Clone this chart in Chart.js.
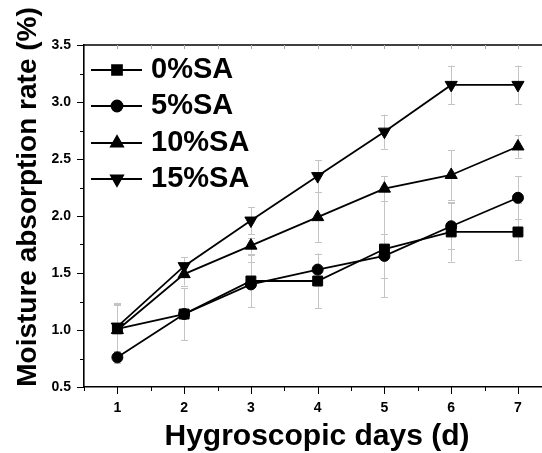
<!DOCTYPE html>
<html>
<head>
<meta charset="utf-8">
<script src="https://cdn.jsdelivr.net/npm/chart.js@4/dist/chart.umd.min.js"></script>
<style>
  html, body { margin: 0; padding: 0; background: #fff; }
  #wrap { width: 542px; height: 453px; }
</style>
</head>
<body>
<div id="wrap"><canvas id="c" width="542" height="453"></canvas></div>
<script>
// ---- data ----
const days = [1, 2, 3, 4, 5, 6, 7];
const seriesLabels = ['0%SA', '5%SA', '10%SA', '15%SA'];
const sa0  = [1.01, 1.14, 1.43, 1.43, 1.71, 1.86, 1.86];
const sa5  = [0.76, 1.14, 1.40, 1.53, 1.65, 1.91, 2.16];
const sa10 = [1.00, 1.49, 1.74, 1.99, 2.24, 2.36, 2.61];
const sa15 = [1.03, 1.56, 1.96, 2.35, 2.74, 3.15, 3.15];
const err0  = [0.22, 0.23, 0.23, 0.24, 0.42, 0.26, 0.25];
const err5  = [0.05, 0.03, 0.20, 0.14, 0.19, 0.20, 0.19];
const err10 = [0.22, 0.10, 0.07, 0.22, 0.11, 0.22, 0.10];
const err15 = [0.21, 0.08, 0.12, 0.14, 0.15, 0.17, 0.17];
const xTickValues = [1, 2, 3, 4, 5, 6, 7];
const yTickValues = [0.5, 1.0, 1.5, 2.0, 2.5, 3.0, 3.5];
const xTitle = 'Hygroscopic days (d)';
const yTitle = 'Moisture absorption rate (%)';

const FONT = "'Liberation Sans', Arial, Helvetica, sans-serif";
const values = [sa0, sa5, sa10, sa15];
const errors = [err0, err5, err10, err15];
const styles = [
  { pointStyle: 'rect', r: 7, rot: 0 },
  { pointStyle: 'circle', r: 5.5, rot: 0 },
  { pointStyle: 'triangle', r: 7, rot: 0 },
  { pointStyle: 'triangle', r: 7, rot: 180 }
];

const datasets = values.map((v, i) => ({
  label: seriesLabels[i],
  data: days.map((d, j) => ({ x: d, y: v[j] })),
  errs: errors[i],
  borderColor: '#000',
  backgroundColor: '#000',
  borderWidth: 1.8,
  pointStyle: styles[i].pointStyle,
  pointRadius: styles[i].r,
  pointHoverRadius: styles[i].r,
  pointRotation: styles[i].rot,
  pointBackgroundColor: '#000',
  pointBorderColor: '#000',
  pointBorderWidth: 1,
  tension: 0,
  fill: false,
  clip: false
}));

const decorPlugin = {
  id: 'decor',
  beforeDatasetsDraw(chart) {
    const ctx = chart.ctx, xs = chart.scales.x, ys = chart.scales.y;
    ctx.save();
    ctx.strokeStyle = '#c4c4c4';
    ctx.lineWidth = 1;
    chart.data.datasets.forEach(ds => {
      ds.data.forEach((p, j) => {
        const e = ds.errs[j];
        const px = Math.round(xs.getPixelForValue(p.x)) + 0.5;
        const t = ys.getPixelForValue(p.y + e);
        const b = ys.getPixelForValue(p.y - e);
        ctx.beginPath();
        ctx.moveTo(px, t); ctx.lineTo(px, b);
        ctx.moveTo(px - 3.5, Math.round(t) + 0.5); ctx.lineTo(px + 3.5, Math.round(t) + 0.5);
        ctx.moveTo(px - 3.5, Math.round(b) + 0.5); ctx.lineTo(px + 3.5, Math.round(b) + 0.5);
        ctx.stroke();
      });
    });
    ctx.restore();
  },
  afterDraw(chart) {
    const ctx = chart.ctx, xs = chart.scales.x, ys = chart.scales.y;
    const a = chart.chartArea;
    ctx.save();
    // top spine
    ctx.strokeStyle = '#000';
    ctx.lineWidth = 1.6;
    ctx.beginPath();
    ctx.moveTo(a.left, a.top); ctx.lineTo(chart.width, a.top);
    ctx.stroke();
    // tick marks
    ctx.lineWidth = 1;
    ctx.strokeStyle = '#000';
    ctx.beginPath();
    for (let v = 0.5; v <= xs.max + 1e-9; v += 0.5) {
      const px = Math.round(xs.getPixelForValue(v)) + 0.5;
      const major = Math.abs(v - Math.round(v)) < 1e-9;
      ctx.moveTo(px, a.bottom); ctx.lineTo(px, a.bottom + (major ? 7 : 4));
    }
    for (let v = 0.5; v <= 3.5 + 1e-9; v += 0.25) {
      const py = Math.round(ys.getPixelForValue(v)) + 0.5;
      const major = Math.abs(v * 2 - Math.round(v * 2)) < 1e-9;
      ctx.moveTo(a.left, py); ctx.lineTo(a.left - (major ? 7 : 4), py);
    }
    ctx.stroke();
    ctx.strokeStyle = '#aaa';
    ctx.beginPath();
    for (let v = 1; v <= xs.max + 1e-9; v += 0.5) {
      const px = Math.round(xs.getPixelForValue(v)) + 0.5;
      ctx.moveTo(px, a.top); ctx.lineTo(px, a.top + 4);
    }
    ctx.stroke();
    // legend
    const rowY = [70, 106, 143, 179];
    chart.data.datasets.forEach((ds, i) => {
      const y = rowY[i];
      ctx.strokeStyle = '#000';
      ctx.lineWidth = 1.8;
      ctx.beginPath();
      ctx.moveTo(91, y); ctx.lineTo(142, y);
      ctx.stroke();
      ctx.fillStyle = '#000';
      Chart.helpers.drawPoint(ctx, {
        pointStyle: ds.pointStyle, radius: ds.pointRadius, rotation: ds.pointRotation, borderWidth: 1
      }, 117, y);
      ctx.fillStyle = '#000';
      ctx.font = 'bold 29px ' + FONT;
      ctx.textBaseline = 'middle';
      ctx.textAlign = 'left';
      ctx.fillText(ds.label, 151, y);
    });
    // axis titles
    ctx.fillStyle = '#000';
    ctx.textAlign = 'center';
    ctx.textBaseline = 'middle';
    ctx.font = 'bold 30px ' + FONT;
    ctx.fillText(xTitle, 317, 437);
    ctx.translate(28, 197);
    ctx.rotate(-Math.PI / 2);
    ctx.font = 'bold 28px ' + FONT;
    ctx.fillText(yTitle, 0, 0);
    ctx.restore();
  }
};

new Chart(document.getElementById('c'), {
  type: 'line',
  data: { datasets },
  plugins: [decorPlugin],
  options: {
    responsive: false,
    animation: false,
    devicePixelRatio: 1,
    layout: { autoPadding: false, padding: { left: 0, right: 0, top: 45, bottom: 0 } },
    plugins: { legend: { display: false }, tooltip: { enabled: false } },
    scales: {
      x: {
        type: 'linear',
        min: 0.5,
        max: 7.36,
        afterBuildTicks: s => { s.ticks = xTickValues.map(v => ({ value: v })); },
        afterFit: s => { s.height = 66; s.paddingLeft = 0; s.paddingRight = 0; },
        grid: { display: true, drawOnChartArea: false, drawTicks: false },
        border: { display: true, color: '#000', width: 1.6 },
        ticks: {
          color: '#000', padding: 13, maxRotation: 0, autoSkip: false,
          font: { family: FONT, size: 14, weight: 'bold' },
          callback: v => String(v)
        },
        title: { display: false }
      },
      y: {
        type: 'linear',
        min: 0.5,
        max: 3.5,
        afterBuildTicks: s => { s.ticks = yTickValues.map(v => ({ value: v })); },
        afterFit: s => { s.width = 84; s.paddingTop = 0; s.paddingBottom = 0; },
        grid: { display: true, drawOnChartArea: false, drawTicks: false },
        border: { display: true, color: '#000', width: 1.6 },
        ticks: {
          color: '#000', padding: 13,
          font: { family: FONT, size: 14, weight: 'bold' },
          callback: v => Number(v).toFixed(1)
        },
        title: { display: false }
      }
    }
  }
});
</script>
</body>
</html>
